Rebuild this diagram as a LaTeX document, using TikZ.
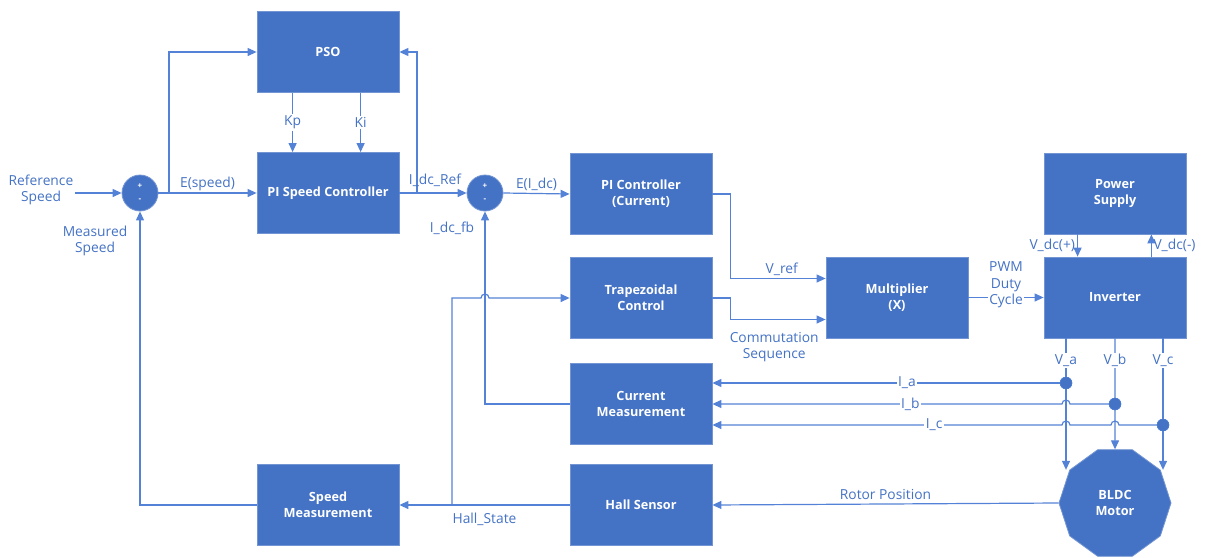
\documentclass[tikz,border=0pt]{standalone}
\usepackage{fontspec}
\setmainfont{Open Sans}
\usetikzlibrary{arrows.meta,shapes.geometric,calc,positioning}
\definecolor{boxblue}{RGB}{68,114,196}
\definecolor{wireblue}{RGB}{84,130,214}

\begin{document}
\begin{tikzpicture}[x=1pt,y=-1pt,
    blk/.style={fill=boxblue,draw=boxblue!75!white,line width=0.8pt,minimum width=142pt,minimum height=81pt,text=white,font=\fontsize{12.7}{16}\selectfont\bfseries,align=center},
    sumnode/.style={circle,fill=boxblue,draw=boxblue!75!white,line width=0.8pt,minimum size=36pt,inner sep=0pt,text=white,font=\fontsize{8}{13}\selectfont\bfseries,align=center},
    wire/.style={draw=wireblue,line width=1.2pt},
    arr/.style={wire,-{Triangle[length=9pt,width=8pt]}},
    lab/.style={text=boxblue,font=\fontsize{13.8}{16}\selectfont,align=center,inner sep=2pt},
    labw/.style={lab,fill=white,inner sep=1.5pt},
    dot/.style={circle,fill=boxblue,draw=wireblue,minimum size=12pt,inner sep=0pt}]
  \useasboundingbox (0,0) rectangle (1213,557);
  \node[blk] (pso) at (328,52) {PSO};
  \node[blk] (pis) at (328,193) {PI Speed Controller};
  \node[blk] (spd) at (328,505) {Speed\\Measurement};
  \node[blk] (pic) at (641,194) {PI Controller\\(Current)};
  \node[blk] (trap) at (641,298) {Trapezoidal\\Control};
  \node[blk] (cur) at (641,404) {Current\\Measurement};
  \node[blk] (hall) at (641,505) {Hall Sensor};
  \node[blk] (mult) at (897,297.5) {Multiplier\\(X)};
  \node[blk] (psu) at (1115,193.5) {Power\\Supply};
  \node[blk] (inv) at (1115,297.5) {Inverter};
  \node[regular polygon,regular polygon sides=10,minimum size=112pt,inner sep=0pt,fill=boxblue,draw=boxblue!75!white,line width=0.8pt,text=white,font=\fontsize{12.7}{16}\selectfont\bfseries,align=center] (motor) at (1115,503) {BLDC\\Motor};
  \node[sumnode] (sum1) at (140,193) {+\\-};
  \node[sumnode] (sum2) at (485,193) {+\\-};
  \node[lab] (refspd) at (41,190) {Reference\\Speed};
  \node[lab] (measspd) at (95,241) {Measured\\Speed};
  \coordinate (b1) at (169,193);
  \coordinate (b2) at (417,193);
  \coordinate (hb) at (452,505);
  \draw[arr] (refspd.east |- sum1) -- (sum1.west);
  \draw[arr] (sum1.east) -- node[lab,above] (espd) {E(speed)} (pis.west);
  \draw[arr] (b1) |- (pso.west);
  \draw[arr] ($(pso.south west)+(36,0)$) -- node[labw] (kp) {Kp} ($(pis.north west)+(36,0)$);
  \draw[arr] ($(pso.south west)+(104,0)$) -- node[labw] (ki) {Ki} ($(pis.north west)+(104,0)$);
  \draw[arr] (pis.east) -- (sum2.west);
  \draw[arr] (b2) |- (pso.east);
  \node[lab] (idcref) at (435,180) {I\_dc\_Ref};
  \draw[arr] (sum2.east) -- node[lab,above] (eidc) {E(I\_dc)} (pic.west);
  \draw[arr] (cur.west) -| (sum2.south);
  \node[lab] (idcfb) at (452,228) {I\_dc\_fb};
  \draw[arr] (pic.east) -- ++(18,0) |- node[lab,pos=0.77,above] (vref) {V\_ref} ($(mult.west)+(0,-19)$);
  \draw[arr] (trap.east) -- ++(18,0) |- node[lab,pos=0.73,below,yshift=-10pt] (comm) {Commutation\\Sequence} ($(mult.west)+(0,22)$);
  \draw[arr] (mult.east) -- (inv.west);
  \node[labw,font=\fontsize{13.8}{16.5}\selectfont] (pwm) at (1006,285) {PWM\\Duty\\Cycle};
  \draw[arr] ($(psu.south west)+(34,0)$) -- node[lab,left] (vdcp) {V\_dc(+)} ($(inv.north west)+(34,0)$);
  \draw[arr] ($(inv.north east)+(-35,0)$) -- node[lab,right,inner sep=1.5pt] (vdcm) {V\_dc(-)} ($(psu.south east)+(-35,0)$);
  \node[dot] (dota) at (1066,383) {};
  \node[dot] (dotb) at (1115,404) {};
  \node[dot] (dotc) at (1163,425) {};
  \coordinate (xab) at (dota |- dotb);
  \coordinate (xac) at (dota |- dotc);
  \coordinate (xbc) at (dotb |- dotc);
  \coordinate (xh) at (sum2 |- trap);
  \draw[arr] (inv.south -| dota) -- node[labw,pos=0.17] (va) {V\_a} (dota |- motor.144);
  \draw[arr] (inv.south -| dotb) -- node[labw,pos=0.2] (vb) {V\_b} (motor.north);
  \draw[arr] (inv.south -| dotc) -- node[labw,pos=0.17] (vc) {V\_c} (dotc |- motor.36);
  \draw[arr] (dota) -- node[labw,pos=0.44] (ia) {I\_a} (cur.east |- dota);
  \draw[arr] (dotb) -- ([xshift=4pt]xab) arc (0:-180:4) -- node[labw,pos=0.434] (ib) {I\_b} (cur.east |- dotb);
  \draw[arr] (dotc) -- ([xshift=4pt]xbc) arc (0:-180:4) -- ([xshift=4pt]xac) arc (0:-180:4) -- node[labw,pos=0.366] (ic) {I\_c} (cur.east |- dotc);
  \node[dot] at (dota) {};
  \node[dot] at (dotb) {};
  \node[dot] at (dotc) {};
  \draw[arr] (motor.west) -- node[lab,above,yshift=2pt] (rotor) {Rotor Position} (hall.east);
  \draw[arr] (hall.west) -- node[lab,below,yshift=-5pt] (hstate) {Hall\_State} (spd.east);
  \draw[arr] (hb) |- ([xshift=-4pt]xh) arc (180:360:4) -- (trap.west);
  \draw[arr] (spd.west) -| (sum1.south);
\end{tikzpicture}
\end{document}
